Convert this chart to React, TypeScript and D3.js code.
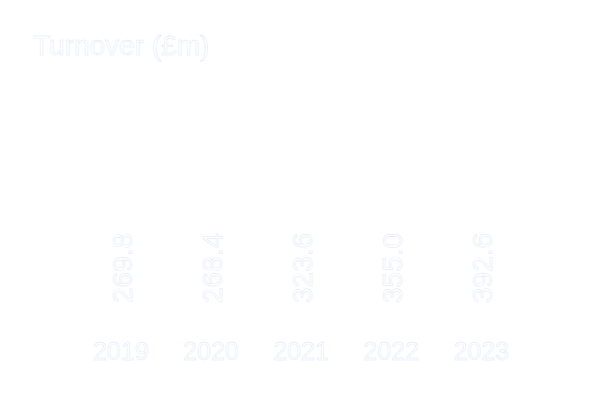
import { useEffect, useRef } from 'react'
import * as d3 from 'd3'

const YEARS = ['2019', '2020', '2021', '2022', '2023']
const TURNOVER = [269.8, 268.4, 323.6, 355.0, 392.6]
const TITLE = 'Turnover (£m)'

const WIDTH = 600
const HEIGHT = 397
const FONT = '"Liberation Sans", Arial, sans-serif'
const EDGE = '#dce6f6'

export default function App() {
  const svgRef = useRef<SVGSVGElement>(null)

  useEffect(() => {
    if (!svgRef.current) return
    const svg = d3.select(svgRef.current)
    svg.selectAll('*').remove()

    const x = d3.scaleBand<string>()
      .domain(YEARS)
      .range([87, 515])
      .paddingInner(0.25)
      .paddingOuter(0)

    const baseY = 318
    const y = d3.scaleLinear()
      .domain([0, 420])
      .range([baseY, 90])

    const outlined = (sel: d3.Selection<any, any, any, any>, size: number) =>
      sel.attr('font-family', FONT)
        .attr('font-size', size)
        .attr('fill', '#ffffff')
        .attr('stroke', EDGE)
        .attr('stroke-width', 0.45)

    // title
    outlined(svg.append('text').attr('x', 33).attr('y', 55), 28).text(TITLE)

    // bars (white on white)
    svg.append('g')
      .selectAll('rect')
      .data(TURNOVER)
      .join('rect')
      .attr('x', (_, i) => x(YEARS[i])!)
      .attr('y', d => y(d))
      .attr('width', x.bandwidth())
      .attr('height', d => baseY - y(d))
      .attr('fill', '#ffffff')

    // value labels, rotated
    outlined(
      svg.append('g')
        .selectAll('text')
        .data(TURNOVER)
        .join('text')
        .attr('transform', (_, i) => `translate(${x(YEARS[i])! + x.bandwidth() / 2 + 11},${baseY - 15}) rotate(-90)`),
      28,
    ).text(d => d.toFixed(1))

    // year labels
    outlined(
      svg.append('g')
        .selectAll('text')
        .data(YEARS)
        .join('text')
        .attr('x', d => x(d)! + x.bandwidth() / 2)
        .attr('y', 360)
        .attr('text-anchor', 'middle'),
      25,
    ).text(d => d)
  }, [])

  return (
    <svg
      ref={svgRef}
      width={WIDTH}
      height={HEIGHT}
      style={{ position: 'absolute', top: 0, left: 0, background: '#ffffff' }}
    />
  )
}
